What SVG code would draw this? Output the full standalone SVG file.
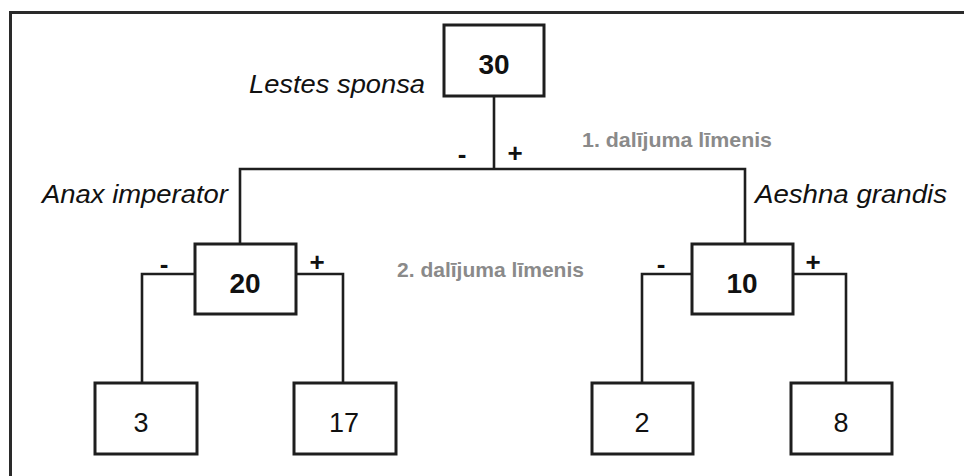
<svg xmlns="http://www.w3.org/2000/svg" width="964" height="476" viewBox="0 0 964 476">
<style>
.box{fill:#fff;stroke:#1e1e1e;stroke-width:3}
.ln{fill:none;stroke:#1e1e1e;stroke-width:2.6}
.num{font-family:"Liberation Sans",Arial,sans-serif;font-size:27px;fill:#111;text-anchor:middle}
.b{font-weight:bold;font-size:28px}
.sp{font-family:"Liberation Sans",Arial,sans-serif;font-size:26.5px;font-style:italic;fill:#111}
.lv{font-family:"Liberation Sans",Arial,sans-serif;font-size:21px;font-weight:bold;fill:#8a8a8a}
.sg{font-family:"Liberation Sans",Arial,sans-serif;font-size:26px;font-weight:bold;fill:#111;text-anchor:middle}
</style>
<rect width="964" height="476" fill="#fff"/>
<polyline points="10.5,476 10.5,12.5 964,12.5" fill="none" stroke="#2a2a2a" stroke-width="3"/>
<g id="connectors">
<polyline class="ln" points="494,96 494,169"/>
<polyline class="ln" points="240,244 240,169 745,169 745,244"/>
<polyline class="ln" points="195,274 142,274 142,383"/>
<polyline class="ln" points="296,274 343,274 343,383"/>
<polyline class="ln" points="692,274 642,274 642,383"/>
<polyline class="ln" points="793,274 846,274 846,383"/>
<text class="sg" x="462" y="163">-</text>
<text class="sg" x="515" y="162">+</text>
<text class="sg" x="164" y="273">-</text>
<text class="sg" x="317" y="271">+</text>
<text class="sg" x="661" y="273">-</text>
<text class="sg" x="813" y="271">+</text>
</g>
<g id="n30"><rect class="box" x="444" y="25" width="100" height="71"/><text class="num b" x="494" y="74">30</text></g>
<g id="n20"><rect class="box" x="195" y="244" width="101" height="70"/><text class="num b" x="245" y="293">20</text></g>
<g id="n10"><rect class="box" x="692" y="244" width="101" height="70"/><text class="num b" x="742" y="293">10</text></g>
<g id="n3"><rect class="box" x="95" y="383" width="102" height="71"/><text class="num" x="141" y="432">3</text></g>
<g id="n17"><rect class="box" x="294" y="383" width="102" height="71"/><text class="num" x="344" y="432">17</text></g>
<g id="n2"><rect class="box" x="592" y="383" width="101" height="71"/><text class="num" x="642" y="432">2</text></g>
<g id="n8"><rect class="box" x="791" y="383" width="101" height="71"/><text class="num" x="841" y="432">8</text></g>
<g id="labels">
<text class="sp" x="249" y="93" textLength="176" lengthAdjust="spacingAndGlyphs">Lestes sponsa</text>
<text class="sp" x="42" y="203" textLength="186" lengthAdjust="spacingAndGlyphs">Anax imperator</text>
<text class="sp" x="755" y="203" textLength="192" lengthAdjust="spacingAndGlyphs">Aeshna grandis</text>
<text class="lv" x="582" y="147" textLength="190" lengthAdjust="spacingAndGlyphs">1. dalījuma līmenis</text>
<text class="lv" x="397" y="277" textLength="187" lengthAdjust="spacingAndGlyphs">2. dalījuma līmenis</text>
</g>
</svg>
